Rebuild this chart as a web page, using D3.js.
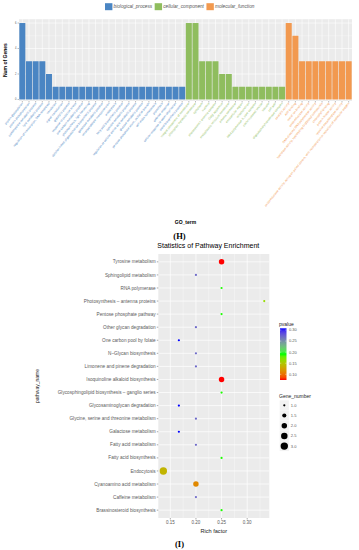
<!DOCTYPE html>
<html>
<head>
<meta charset="utf-8">
<script src="https://cdn.jsdelivr.net/npm/d3@7"></script>
<style>
  body { margin: 0; background: #fff; }
  svg { display: block; font-family: "Liberation Sans", Arial, sans-serif; }
</style>
</head>
<body>
<div id="chart"></div>
<script>
// ---- GO bar chart data (H) ----
const categories = ["biological_process", "cellular_component", "molecular_function"];
const categoryColors = ["#4a85c3", "#8fbd5e", "#f2994f"];

const bioProcessTerms = [
  "protein glycosylation", "protein phosphorylation", "carbohydrate metabolic process",
  "lipid metabolic process", "regulation of transcription, DNA-templated", "translation",
  "signal transduction", "glycolytic process", "response to oxidative stress",
  "one-carbon metabolic process", "photosynthesis, light harvesting",
  "dolichol-linked oligosaccharide biosynthetic process", "galactose metabolic process",
  "tetrahydrofolate interconversion", "endocytosis", "fatty acid biosynthetic process",
  "cyanide metabolic process", "regulation of cellular amino acid metabolic process",
  "glucose metabolic process", "pentose-phosphate shunt, oxidative branch",
  "cell redox homeostasis", "proteolysis", "defense response",
  "cellular response to water deprivation", "sterol biosynthetic process"
];
const bioProcessCounts = [6, 3, 3, 3, 2, 1, 1, 1, 1, 1, 1, 1, 1, 1, 1, 1, 1, 1, 1, 1, 1, 1, 1, 1, 1];

const cellComponentTerms = [
  "integral component of membrane", "chloroplast thylakoid membrane", "cytoplasm", "nucleus",
  "photosystem I antenna complex", "Golgi apparatus", "endoplasmic reticulum membrane",
  "plasma membrane", "extracellular region", "mitochondrion", "RNA polymerase II, core complex",
  "clathrin-coated vesicle", "vacuole", "cell wall", "oligosaccharyltransferase complex"
];
const cellComponentCounts = [6, 6, 3, 3, 3, 2, 2, 1, 1, 1, 1, 1, 1, 1, 1];

const molFunctionTerms = [
  "catalytic activity", "ATP binding", "metal ion binding", "oxidoreductase activity",
  "DNA-directed RNA polymerase activity", "hydrolase activity, hydrolyzing O-glycosyl compounds",
  "chlorophyll binding", "protein kinase activity", "tyrosine decarboxylase activity",
  "oxidoreductase activity, acting on paired donors, with incorporation or reduction of molecular oxygen"
];
const molFunctionCounts = [6, 5, 3, 3, 3, 3, 3, 3, 3, 3];

const geneTicks = [0, 2, 4, 6];

// ---- Pathway enrichment data (I), top to bottom ----
const pathwayNames = [
  "Tyrosine metabolism", "Sphingolipid metabolism", "RNA polymerase",
  "Photosynthesis \u2013 antenna proteins", "Pentose phosphate pathway",
  "Other glycan degradation", "One carbon pool by folate", "N\u2013Glycan biosynthesis",
  "Limonene and pinene degradation", "Isoquinoline alkaloid biosynthesis",
  "Glycosphingolipid biosynthesis \u2013 ganglio series", "Glycosaminoglycan degradation",
  "Glycine, serine and threonine metabolism", "Galactose metabolism",
  "Fatty acid metabolism", "Fatty acid biosynthesis", "Endocytosis",
  "Cyanoamino acid metabolism", "Caffeine metabolism", "Brassinosteroid biosynthesis"
];
const richFactor = [0.25, 0.20, 0.25, 0.3333, 0.25, 0.20, 0.1667, 0.20, 0.20, 0.25,
  0.25, 0.1667, 0.20, 0.1667, 0.20, 0.25, 0.1364, 0.20, 0.20, 0.25];
const pValue = [0.0743, 0.27, 0.19, 0.163, 0.19, 0.27, 0.3077, 0.27, 0.27, 0.0743,
  0.19, 0.3077, 0.27, 0.3077, 0.27, 0.19, 0.138, 0.112, 0.27, 0.19];
const geneNumber = [2, 1, 1, 1, 1, 1, 1, 1, 1, 2, 1, 1, 1, 1, 1, 1, 3, 2, 1, 1];

const richTicks = [0.15, 0.20, 0.25, 0.30];
const pTicks = [0.10, 0.15, 0.20, 0.25, 0.30];
const sizeTicks = [1.0, 1.5, 2.0, 2.5, 3.0];

const svg = d3.select("#chart").append("svg").attr("width", 359).attr("height", 550);

// ================= top: GO bar chart =================
const goData = [];
[[bioProcessTerms, bioProcessCounts], [cellComponentTerms, cellComponentCounts], [molFunctionTerms, molFunctionCounts]]
  .forEach(([terms, counts], ci) => terms.forEach((t, i) => goData.push({ term: t, count: counts[i], cat: ci })));

const goBox = { left: 19, right: 352, top: 19.2, bottom: 101 };
const xGo = d3.scaleBand().domain(goData.map((d) => d.term)).range([goBox.left, goBox.right])
  .paddingInner(0.1).paddingOuter(0.05);
const yGo = d3.scaleLinear().domain([-0.12, 6.3]).range([goBox.bottom, goBox.top]);

const g1 = svg.append("g");
g1.append("rect").attr("x", goBox.left).attr("y", goBox.top)
  .attr("width", goBox.right - goBox.left).attr("height", goBox.bottom - goBox.top).attr("fill", "#ebebeb");
g1.selectAll(".minor").data([1, 3, 5]).enter().append("line")
  .attr("x1", goBox.left).attr("x2", goBox.right).attr("y1", (d) => yGo(d)).attr("y2", (d) => yGo(d))
  .attr("stroke", "#fff").attr("stroke-width", 0.3);
g1.selectAll(".major").data(geneTicks).enter().append("line")
  .attr("x1", goBox.left).attr("x2", goBox.right).attr("y1", (d) => yGo(d)).attr("y2", (d) => yGo(d))
  .attr("stroke", "#fff").attr("stroke-width", 0.6);
g1.selectAll(".vgrid").data(goData).enter().append("line")
  .attr("x1", (d) => xGo(d.term) + xGo.bandwidth() / 2).attr("x2", (d) => xGo(d.term) + xGo.bandwidth() / 2)
  .attr("y1", goBox.top).attr("y2", goBox.bottom).attr("stroke", "#fff").attr("stroke-width", 0.6);

g1.selectAll(".bar").data(goData).enter().append("rect")
  .attr("x", (d) => xGo(d.term)).attr("width", xGo.bandwidth())
  .attr("y", (d) => yGo(d.count)).attr("height", (d) => yGo(0) - yGo(d.count))
  .attr("fill", (d) => categoryColors[d.cat]);

// y axis ticks
g1.selectAll(".ytl").data(geneTicks).enter().append("text")
  .attr("x", goBox.left - 2.5).attr("y", (d) => yGo(d) + 0.9).attr("text-anchor", "end")
  .attr("font-size", 2.6).attr("fill", "#555").text((d) => d);
g1.selectAll(".ytk").data(geneTicks).enter().append("line")
  .attr("x1", goBox.left - 1.5).attr("x2", goBox.left).attr("y1", (d) => yGo(d)).attr("y2", (d) => yGo(d))
  .attr("stroke", "#555").attr("stroke-width", 0.4);

// x ticks + rotated labels
g1.selectAll(".xtk").data(goData).enter().append("line")
  .attr("x1", (d) => xGo(d.term) + xGo.bandwidth() / 2).attr("x2", (d) => xGo(d.term) + xGo.bandwidth() / 2)
  .attr("y1", goBox.bottom).attr("y2", goBox.bottom + 1.5).attr("stroke", "#555").attr("stroke-width", 0.4);
g1.selectAll(".xtl").data(goData).enter().append("text")
  .attr("transform", (d) => `translate(${xGo(d.term) + xGo.bandwidth() / 2 + 0.8},${goBox.bottom + 2.6}) rotate(-51)`)
  .attr("text-anchor", "end").attr("font-size", 3).attr("fill", (d) => categoryColors[d.cat])
  .text((d) => d.term);

svg.append("text").attr("transform", `translate(7,${(goBox.top + goBox.bottom) / 2}) rotate(-90)`)
  .attr("text-anchor", "middle").attr("font-size", 5).attr("font-weight", "bold").text("Num of Genes");
svg.append("text").attr("x", (goBox.left + goBox.right) / 2).attr("y", 224)
  .attr("text-anchor", "middle").attr("font-size", 5).attr("font-weight", "bold").text("GO_term");

// legend
const leg = svg.append("g");
let lx = 105;
categories.forEach((c, i) => {
  leg.append("rect").attr("x", lx).attr("y", 3.2).attr("width", 7.4).attr("height", 7).attr("fill", categoryColors[i]);
  const t = leg.append("text").attr("x", lx + 8.6).attr("y", 8.4).attr("font-size", 4.7)
    .attr("font-style", "italic").attr("fill", "#555").text(c);
  lx += 8.6 + t.node().getComputedTextLength() + 2.5;
});

svg.append("text").attr("x", 179.5).attr("y", 238.5).attr("text-anchor", "middle")
  .attr("font-family", "'Liberation Serif', serif").attr("font-weight", "bold").attr("font-size", 8.5).text("(H)");

// ================= bottom: pathway enrichment =================
const pwBox = { left: 158.3, right: 269.3, top: 254, bottom: 518 };
const rExt = d3.extent(richFactor);
const rPad = (rExt[1] - rExt[0]) * 0.05;
const xR = d3.scaleLinear().domain([rExt[0] - rPad, rExt[1] + rPad]).range([pwBox.left, pwBox.right]);
const yP = d3.scalePoint().domain(pathwayNames).range([pwBox.top, pwBox.bottom]).padding(0.6);
const pExt = d3.extent(pValue);
const colorP = d3.scaleLinear().domain([pExt[0], (pExt[0] + pExt[1]) / 2, pExt[1]])
  .range(["#ff0000", "#00ff00", "#0000ff"]).interpolate(d3.interpolateLab);
const sizeG = d3.scaleRadial().domain([1, 3]).range([1.1, 3.7]);

const g2 = svg.append("g");
g2.append("rect").attr("x", pwBox.left).attr("y", pwBox.top)
  .attr("width", pwBox.right - pwBox.left).attr("height", pwBox.bottom - pwBox.top).attr("fill", "#ebebeb");
const minorX = d3.range(richTicks[0] - 0.025, xR.domain()[1], 0.05).filter((v) => v > xR.domain()[0]);
g2.selectAll(".mx").data(minorX).enter().append("line")
  .attr("x1", (d) => xR(d)).attr("x2", (d) => xR(d)).attr("y1", pwBox.top).attr("y2", pwBox.bottom)
  .attr("stroke", "#fff").attr("stroke-width", 0.35);
g2.selectAll(".gx").data(richTicks).enter().append("line")
  .attr("x1", (d) => xR(d)).attr("x2", (d) => xR(d)).attr("y1", pwBox.top).attr("y2", pwBox.bottom)
  .attr("stroke", "#fff").attr("stroke-width", 0.7);
g2.selectAll(".gy").data(pathwayNames).enter().append("line")
  .attr("x1", pwBox.left).attr("x2", pwBox.right).attr("y1", (d) => yP(d)).attr("y2", (d) => yP(d))
  .attr("stroke", "#fff").attr("stroke-width", 0.7);

const pts = pathwayNames.map((n, i) => ({ name: n, rf: richFactor[i], p: pValue[i], g: geneNumber[i] }));
g2.selectAll(".pt").data(pts).enter().append("circle")
  .attr("cx", (d) => xR(d.rf)).attr("cy", (d) => yP(d.name)).attr("r", (d) => sizeG(d.g))
  .attr("fill", (d) => colorP(d.p));

// axes labels
g2.selectAll(".ytl").data(pathwayNames).enter().append("text")
  .attr("x", pwBox.left - 2.6).attr("y", (d) => yP(d) + 1.6).attr("text-anchor", "end")
  .attr("font-size", 4.7).attr("fill", "#5a5a5a").text((d) => d);
g2.selectAll(".ytk").data(pathwayNames).enter().append("line")
  .attr("x1", pwBox.left - 1.5).attr("x2", pwBox.left).attr("y1", (d) => yP(d)).attr("y2", (d) => yP(d))
  .attr("stroke", "#555").attr("stroke-width", 0.5);
g2.selectAll(".xtl").data(richTicks).enter().append("text")
  .attr("x", (d) => xR(d)).attr("y", pwBox.bottom + 6.3).attr("text-anchor", "middle")
  .attr("font-size", 4.5).attr("fill", "#5a5a5a").text((d) => d3.format(".2f")(d));
g2.selectAll(".xtk").data(richTicks).enter().append("line")
  .attr("x1", (d) => xR(d)).attr("x2", (d) => xR(d)).attr("y1", pwBox.bottom).attr("y2", pwBox.bottom + 1.5)
  .attr("stroke", "#555").attr("stroke-width", 0.5);

svg.append("text").attr("x", pwBox.left - 1).attr("y", 248).attr("font-size", 7).text("Statistics of Pathway Enrichment");
svg.append("text").attr("x", (pwBox.left + pwBox.right) / 2).attr("y", 533).attr("text-anchor", "middle")
  .attr("font-size", 5.6).attr("fill", "#222").text("Rich factor");
svg.append("text").attr("transform", `translate(38.5,${(pwBox.top + pwBox.bottom) / 2}) rotate(-90)`)
  .attr("text-anchor", "middle").attr("font-size", 5).attr("fill", "#222").text("pathway_name");

// colour bar legend
const cb = { x: 280, w: 6.5, top: 328.3, bottom: 380 };
const yCb = d3.scaleLinear().domain(pExt).range([cb.bottom, cb.top]);
const defs = svg.append("defs");
const grad = defs.append("linearGradient").attr("id", "pgrad").attr("x1", 0).attr("y1", 1).attr("x2", 0).attr("y2", 0);
grad.selectAll("stop").data(d3.range(0, 1.0001, 0.05)).enter().append("stop")
  .attr("offset", (d) => d).attr("stop-color", (d) => colorP(pExt[0] + d * (pExt[1] - pExt[0])));
svg.append("text").attr("x", 279).attr("y", 326).attr("font-size", 5).attr("fill", "#222").text("pvalue");
svg.append("rect").attr("x", cb.x).attr("y", cb.top).attr("width", cb.w).attr("height", cb.bottom - cb.top)
  .attr("fill", "url(#pgrad)");
svg.selectAll(".cbt").data(pTicks).enter().append("g").each(function (d) {
  const s = d3.select(this);
  s.append("line").attr("x1", cb.x).attr("x2", cb.x + 1.3).attr("y1", yCb(d)).attr("y2", yCb(d)).attr("stroke", "#fff").attr("stroke-width", 0.4);
  s.append("line").attr("x1", cb.x + cb.w - 1.3).attr("x2", cb.x + cb.w).attr("y1", yCb(d)).attr("y2", yCb(d)).attr("stroke", "#fff").attr("stroke-width", 0.4);
  s.append("text").attr("x", cb.x + cb.w + 2.5).attr("y", yCb(d) + 1.4).attr("font-size", 4)
    .attr("fill", "#5a5a5a").text(d3.format(".2f")(d));
});

// size legend
svg.append("text").attr("x", 279).attr("y", 397.5).attr("font-size", 5).attr("fill", "#222").text("Gene_number");
const sl = svg.selectAll(".sl").data(sizeTicks).enter().append("g")
  .attr("transform", (d, i) => `translate(284.3,${405.3 + i * 10.2})`);
sl.append("rect").attr("x", -4.6).attr("y", -5).attr("width", 9.2).attr("height", 10).attr("fill", "#f2f2f2");
sl.append("circle").attr("r", (d) => sizeG(d)).attr("fill", "#000");
sl.append("text").attr("x", 6.5).attr("y", 1.4).attr("font-size", 4).attr("fill", "#5a5a5a")
  .text((d) => d3.format(".1f")(d));

svg.append("text").attr("x", 179.5).attr("y", 546.5).attr("text-anchor", "middle")
  .attr("font-family", "'Liberation Serif', serif").attr("font-weight", "bold").attr("font-size", 8.5).text("(I)");
</script>
</body>
</html>
